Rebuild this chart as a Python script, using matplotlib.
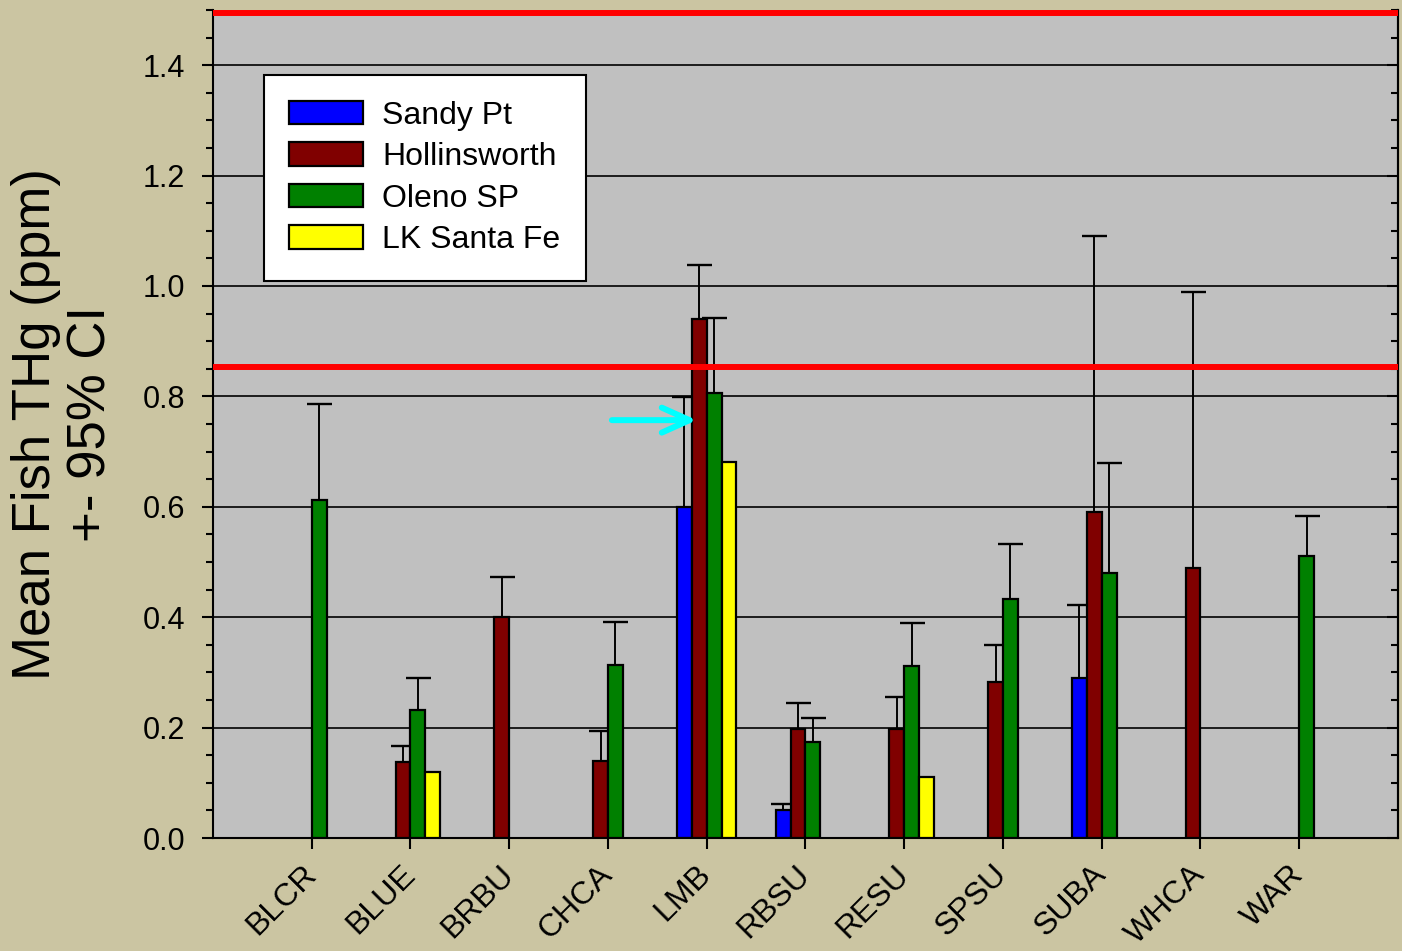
import numpy as np
import matplotlib.pyplot as plt
from matplotlib.ticker import MultipleLocator

plt.rcParams['font.family'] = ['Liberation Sans', 'DejaVu Sans']

species = ['BLCR', 'BLUE', 'BRBU', 'CHCA', 'LMB', 'RBSU', 'RESU', 'SPSU', 'SUBA', 'WHCA', 'WAR']
sites = ['Sandy Pt', 'Hollinsworth', 'Oleno SP', 'LK Santa Fe']
colors = ['#0000FF', '#800000', '#008000', '#FFFF00']

nan = np.nan
# mean THg (ppm) and upper 95% CI per site, NaN = not sampled
sandy_pt = [nan, nan, nan, nan, 0.600, 0.050, nan, nan, 0.290, nan, nan]
sandy_pt_hi = [nan, nan, nan, nan, 0.799, 0.062, nan, nan, 0.422, nan, nan]
hollinsworth = [nan, 0.137, 0.400, 0.140, 0.940, 0.197, 0.197, 0.283, 0.590, 0.489, nan]
hollinsworth_hi = [nan, 0.167, 0.473, 0.194, 1.038, 0.245, 0.255, 0.350, 1.090, 0.989, nan]
oleno = [0.612, 0.232, nan, 0.313, 0.806, 0.174, 0.311, 0.433, 0.480, nan, 0.511]
oleno_hi = [0.786, 0.290, nan, 0.391, 0.942, 0.217, 0.389, 0.532, 0.679, nan, 0.583]
santa_fe = [nan, 0.120, nan, nan, 0.681, nan, 0.110, nan, nan, nan, nan]
santa_fe_hi = [nan] * 11

means = [sandy_pt, hollinsworth, oleno, santa_fe]
uppers = [sandy_pt_hi, hollinsworth_hi, oleno_hi, santa_fe_hi]

limits = [0.853, 1.495]          # red reference lines
arrow_y = 0.757
arrow_x = (4.04, 4.90)

fig = plt.figure(figsize=(14.02, 9.51), dpi=100)
fig.patch.set_facecolor('#CBC5A2')
ax = fig.add_axes([0.1519, 0.1188, 0.8452, 0.8707])
ax.set_facecolor('#C0C0C0')
ax.set_axisbelow(True)

pos = np.arange(1, len(species) + 1)
width = 0.15
offsets = [-0.225, -0.075, 0.075, 0.225]

for i, site in enumerate(sites):
    m = np.array(means[i], dtype=float)
    hi = np.array(uppers[i], dtype=float)
    x = pos + offsets[i]
    ok = ~np.isnan(m)
    ax.bar(x[ok], m[ok], width, color=colors[i], edgecolor='black', linewidth=1.6,
           label=site, zorder=2 + 2 * i)
    e = ok & ~np.isnan(hi)
    ax.vlines(x[e], m[e], hi[e], color='black', linewidth=1.4, zorder=3 + 2 * i)
    ax.plot(x[e], hi[e], linestyle='none', marker='_', markersize=18,
            markeredgewidth=1.7, color='black', zorder=3 + 2 * i)

for lim in limits:
    ax.axhline(lim, color='#FF0000', linewidth=4.3, zorder=20)

ax.annotate('', xy=(arrow_x[1], arrow_y), xytext=(arrow_x[0], arrow_y),
            arrowprops=dict(arrowstyle='->,head_length=1.0,head_width=0.45',
                            color='#00FFFF', lw=4.3, mutation_scale=20,
                            shrinkA=0, shrinkB=0),
            zorder=25)

ax.set_xlim(0, 12)
ax.set_ylim(0, 1.5)
ax.set_xticks(pos)
ax.set_xticklabels(species, rotation=45, ha='right', va='center',
                   rotation_mode='anchor', fontsize=23)
ax.yaxis.set_major_locator(MultipleLocator(0.2))
ax.yaxis.set_minor_locator(MultipleLocator(0.05))
ax.yaxis.set_major_formatter(plt.FormatStrFormatter('%.1f'))
ax.tick_params(axis='y', which='major', length=8, width=1.5, labelsize=22, pad=12)
ax.tick_params(axis='y', which='minor', length=5, width=1.5)
ax.tick_params(axis='x', which='major', length=8, width=1.5, pad=15)
ax.grid(axis='y', which='major', color='black', linewidth=1.2)

sec = ax.secondary_yaxis('right')
sec.yaxis.set_major_locator(MultipleLocator(0.2))
sec.yaxis.set_minor_locator(MultipleLocator(0.05))
sec.tick_params(which='both', direction='in', labelright=False, width=1.5)
sec.tick_params(which='major', length=8)
sec.tick_params(which='minor', length=5)
sec.spines['right'].set_linewidth(1.5)

ax.spines['top'].set_visible(False)
for s in ['left', 'bottom', 'right']:
    ax.spines[s].set_linewidth(1.5)

fig.text(64 / 1402, 1 - 424 / 951, 'Mean Fish THg (ppm)\n+- 95% CI', rotation=90,
         ha='center', va='center', multialignment='center', fontsize=38, linespacing=1.15)

leg = ax.legend(loc='upper left', bbox_to_anchor=(0.043, 0.9215), borderaxespad=0,
                fontsize=23, fancybox=False, framealpha=1, edgecolor='black',
                handlelength=2.3, handleheight=0.75, handletextpad=0.6,
                labelspacing=0.36, borderpad=0.8)
leg.get_frame().set_linewidth(1.5)
leg.set_zorder(30)

fig.savefig('out.png', dpi=100, facecolor=fig.get_facecolor())
